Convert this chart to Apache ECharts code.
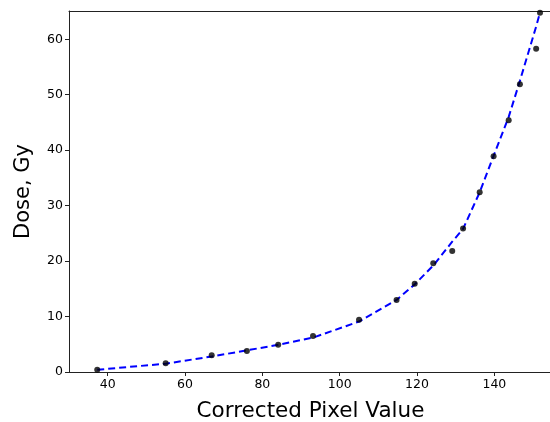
<!DOCTYPE html>
<html>
<head>
<meta charset="utf-8">
<script src="https://cdn.jsdelivr.net/npm/echarts@6/dist/echarts.min.js"></script>
<style>
  html, body { margin: 0; padding: 0; background: #fff; }
  #main { width: 550px; height: 422px; }
</style>
</head>
<body>
<div id="main"></div>
<script>
var pixelValues = [37.3, 55.0, 66.9, 76.0, 84.1, 93.1, 105.0, 114.7, 119.4, 124.2, 129.1, 131.9, 136.2, 139.8, 143.7, 146.6, 150.8, 151.8];
var doseValues = [0.4, 1.6, 3.0, 3.8, 4.9, 6.5, 9.4, 13.0, 15.9, 19.6, 21.8, 25.9, 32.4, 38.9, 45.4, 51.9, 58.3, 64.8];
var fitValues = [0.4, 1.5, 2.8, 3.9, 4.9, 6.2, 9.1, 13.0, 15.8, 19.2, 23.5, 25.8, 32.4, 39.0, 46.0, 52.5, 62.3, 64.8];
var xTicks = [40, 60, 80, 100, 120, 140];
var yTicks = [0, 10, 20, 30, 40, 50, 60];

var chart = echarts.init(document.getElementById('main'));

var font = 'DejaVu Sans';
var spine = {show: true, lineStyle: {color: '#222', width: 1}};

var option = {
    animation: false,
    grid: {left: 69, right: -2, top: 11, bottom: 50, outerBoundsMode: 'none'},
    xAxis: [
        {
            type: 'value',
            min: 30,
            max: 154.9,
            name: 'Corrected Pixel Value',
            nameLocation: 'middle',
            nameGap: 28,
            nameTextStyle: {fontFamily: font, fontSize: 21.5, color: '#000'},
            axisLine: spine,
            axisTick: {show: true, customValues: xTicks, length: 4, lineStyle: {color: '#222'}},
            axisLabel: {customValues: xTicks, fontFamily: font, fontSize: 12.5, color: '#000', margin: 6},
            splitLine: {show: false}
        },
        {
            type: 'value', position: 'top', min: 30, max: 154.9,
            axisLine: spine, axisTick: {show: false}, axisLabel: {show: false}, splitLine: {show: false}
        }
    ],
    yAxis: [
        {
            type: 'value',
            min: 0,
            max: 65.1,
            name: 'Dose, Gy',
            nameLocation: 'middle',
            nameGap: 35,
            nameTextStyle: {fontFamily: font, fontSize: 21, color: '#000'},
            axisLine: spine,
            axisTick: {show: true, customValues: yTicks, length: 4, lineStyle: {color: '#222'}},
            axisLabel: {customValues: yTicks, fontFamily: font, fontSize: 12.5, color: '#000', margin: 6},
            splitLine: {show: false}
        }
    ],
    series: [
        {
            type: 'line',
            data: pixelValues.map(function (x, i) { return [x, fitValues[i]]; }),
            showSymbol: false,
            lineStyle: {color: '#0000ff', width: 2, type: [7, 4]},
            z: 2
        },
        {
            type: 'scatter',
            data: pixelValues.map(function (x, i) { return [x, doseValues[i]]; }),
            symbolSize: 6,
            itemStyle: {color: '#000'},
            z: 3
        }
    ]
};

chart.setOption(option);
</script>
</body>
</html>
